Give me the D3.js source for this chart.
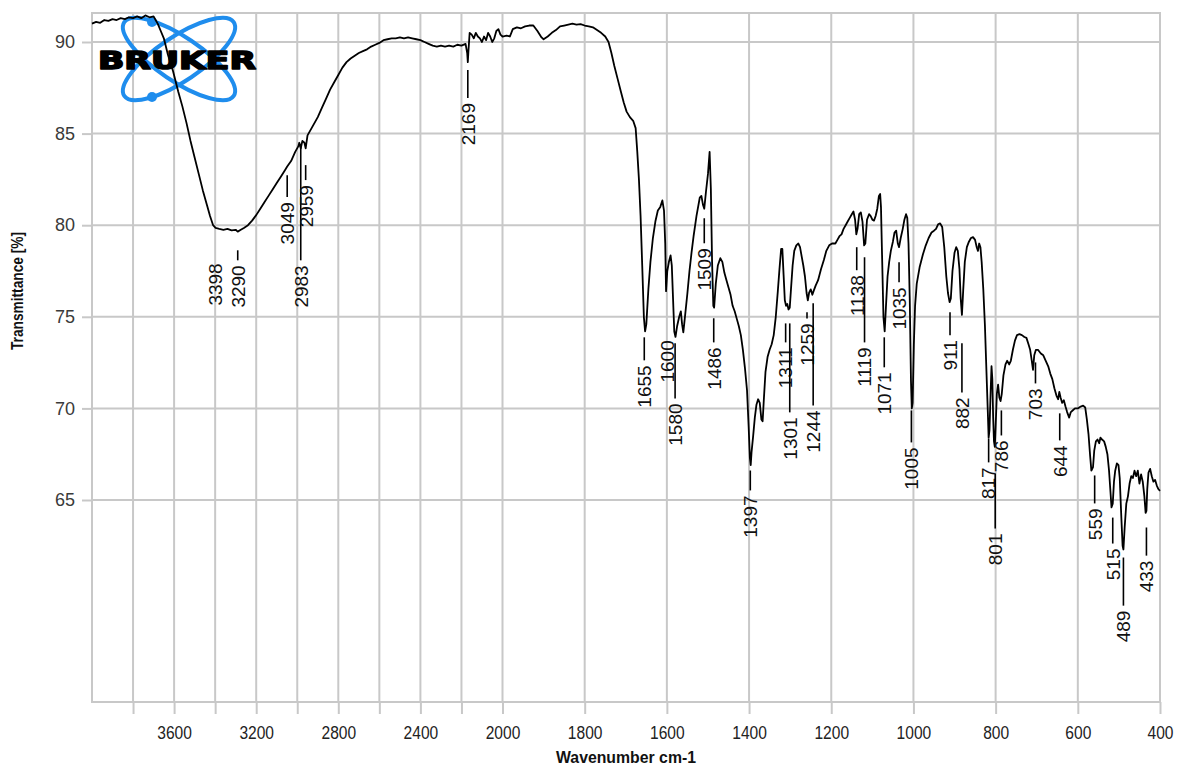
<!DOCTYPE html>
<html><head><meta charset="utf-8">
<script src="https://cdn.jsdelivr.net/npm/d3@7"></script>
<style>
html,body{margin:0;padding:0;background:#fff;}
svg{display:block;}
</style></head>
<body>
<svg id="chart" width="1178" height="767"></svg>
<script>
// ---- data ----
const wavenumbers = [4000,3980,3960,3940,3920,3900,3880,3860,3840,3820,3800,3780,3760,3740,3720,3700,3690,3680,3665,3650,3630,3605,3580,3560,3540,3520,3500,3480,3460,3440,3425,3410,3398,3380,3360,3340,3320,3300,3290,3275,3260,3240,3220,3200,3180,3160,3140,3120,3100,3080,3060,3049,3030,3010,2995,2990,2983,2975,2965,2959,2950,2930,2900,2880,2860,2840,2820,2800,2780,2760,2740,2720,2700,2680,2660,2640,2620,2600,2580,2560,2540,2520,2500,2480,2460,2440,2420,2400,2380,2360,2340,2320,2300,2280,2260,2240,2220,2200,2180,2172,2169,2166,2160,2150,2140,2130,2120,2110,2100,2090,2080,2070,2060,2050,2040,2030,2020,2010,2000,1990,1982,1975,1965,1955,1945,1935,1925,1915,1905,1900,1890,1880,1870,1860,1850,1840,1830,1820,1810,1800,1790,1780,1770,1760,1750,1742,1735,1728,1720,1712,1705,1698,1690,1682,1676,1672,1668,1664,1660,1656,1653,1650,1645,1640,1634,1628,1622,1616,1611,1607,1604,1602,1599,1595,1591,1588,1585,1582,1579,1575,1570,1566,1563,1560,1556,1550,1545,1540,1535,1528,1520,1516,1512,1509,1505,1500,1496,1493,1490,1487,1485,1481,1476,1470,1465,1460,1455,1450,1445,1440,1435,1430,1425,1420,1415,1410,1405,1401,1398,1396,1394,1390,1386,1382,1378,1374,1370,1367,1364,1360,1355,1350,1345,1340,1335,1330,1326,1322,1319,1316,1313,1310,1307,1304,1301,1298,1294,1290,1285,1280,1276,1272,1268,1264,1260,1257,1254,1250,1246,1243,1238,1232,1225,1218,1212,1205,1198,1190,1185,1180,1175,1170,1165,1160,1155,1150,1146,1142,1139,1136,1132,1128,1124,1120,1117,1113,1108,1104,1100,1096,1092,1088,1084,1081,1079,1076,1073,1070,1067,1063,1059,1055,1050,1046,1042,1038,1035,1031,1026,1022,1018,1015,1012,1009,1006,1004,1002,999,996,992,985,977,970,963,956,950,945,940,935,930,925,920,916,912,909,905,900,896,892,888,885,882,879,875,870,865,860,855,850,846,843,840,837,834,830,826,822,819,817,815,812,810,808,806,804,802,800,797,794,791,788,785,781,776,772,767,763,758,753,748,742,736,730,725,720,716,712,709,706,702,697,690,684,678,672,667,662,657,652,648,645,642,638,634,630,626,621,617,612,607,600,593,587,582,578,574,570,567,563,560,556,552,548,545,541,536,532,528,524,521,518,515,512,509,505,501,498,494,491,489,486,482,478,474,470,466,462,458,454,450,446,442,438,435,433,431,428,424,420,416,412,408,404,400];
const transmittance = [91.0,91.1,91.05,91.2,91.15,91.25,91.2,91.3,91.25,91.35,91.3,91.4,91.3,91.45,91.35,91.4,91.2,91.0,90.6,90.2,89.3,88.4,87.3,86.5,85.6,84.6,83.7,82.8,81.9,81.1,80.5,80.0,79.85,79.8,79.75,79.8,79.72,79.75,79.65,79.75,79.85,80.0,80.25,80.55,80.9,81.25,81.6,81.95,82.3,82.65,83.0,83.2,83.5,84.0,84.3,84.5,84.2,84.6,84.5,84.2,84.9,85.3,85.9,86.4,86.9,87.4,87.8,88.2,88.6,88.9,89.1,89.25,89.4,89.5,89.6,89.75,89.85,89.95,90.1,90.15,90.2,90.2,90.25,90.2,90.25,90.2,90.15,90.1,90.0,89.9,89.8,89.75,89.8,89.75,89.8,89.75,89.85,89.8,89.9,89.4,88.9,89.5,90.5,90.4,90.2,90.5,90.3,90.2,90.0,90.3,90.1,90.5,90.3,90.0,90.2,90.6,90.7,90.4,90.3,90.35,90.3,90.7,90.8,90.75,90.85,90.9,90.9,90.6,90.25,90.15,90.3,90.5,90.65,90.85,90.9,90.95,91.0,90.95,90.98,90.9,90.85,90.8,90.65,90.5,90.3,90.0,89.4,88.7,88.0,87.3,86.7,86.2,85.9,85.7,85.3,84.0,82.5,80.5,77.8,75.0,74.2,74.6,76.5,78.0,79.3,80.2,80.8,81.0,81.35,80.8,79.0,76.4,77.5,78.0,78.35,77.8,76.0,74.2,73.9,74.5,75.0,75.3,74.6,74.15,75.0,76.3,77.5,78.5,79.4,80.5,81.5,81.6,81.1,80.9,81.8,82.8,84.0,82.0,78.0,75.6,75.5,76.8,77.8,78.2,78.0,77.4,77.0,76.6,76.2,75.6,75.3,74.9,74.5,74.0,73.2,72.2,71.0,69.0,67.3,66.9,67.6,68.5,69.5,70.2,70.5,70.3,69.4,69.3,70.5,72.0,72.8,73.2,73.5,74.0,75.0,76.4,77.6,78.7,78.7,77.3,75.9,75.6,75.7,75.4,75.5,76.5,77.8,78.6,78.9,79.0,78.8,78.3,77.8,77.2,76.3,75.9,76.3,76.5,76.2,76.4,76.7,77.0,77.6,78.1,78.6,78.9,79.0,79.0,79.2,79.4,79.5,79.8,80.0,80.2,80.4,80.6,80.75,80.3,79.5,79.8,80.6,80.7,80.2,78.9,79.0,80.3,80.6,80.5,80.3,80.25,80.5,80.9,81.6,81.7,81.0,78.0,75.0,74.2,75.5,77.2,78.0,78.6,79.1,79.6,79.7,79.0,78.8,79.3,79.8,80.3,80.6,80.4,79.0,76.0,71.5,70.0,70.3,73.5,75.6,76.8,77.7,78.4,78.9,79.3,79.6,79.7,79.8,80.05,80.1,79.9,78.8,77.2,76.3,75.8,76.0,77.5,78.5,78.8,78.6,77.6,76.0,75.1,76.4,78.0,78.8,79.1,79.3,79.35,79.2,78.8,78.6,79.0,78.8,78.0,76.5,74.5,71.8,69.8,68.4,68.8,71.0,72.3,71.6,69.5,68.2,67.9,69.0,70.8,71.3,70.6,70.4,70.8,71.8,72.4,72.6,72.4,72.6,73.2,73.7,74.0,74.05,74.0,73.9,73.85,73.5,73.2,72.6,72.1,72.9,73.2,73.2,73.0,72.9,72.6,72.3,71.9,71.6,71.1,70.7,70.5,70.9,70.6,70.3,70.45,70.1,69.8,69.5,69.8,69.9,70.0,70.0,70.1,70.15,70.05,69.4,68.6,67.4,66.6,66.8,67.7,68.2,68.3,68.1,68.4,68.3,68.2,67.9,67.5,66.6,65.6,64.6,64.8,66.0,66.6,67.0,66.9,66.2,64.0,62.5,62.3,63.5,64.8,65.2,65.9,66.3,66.2,66.6,66.3,66.6,65.9,66.4,66.0,65.2,64.3,64.4,65.6,66.5,66.7,66.3,66.0,66.1,65.8,65.6,65.5];

// peak labels: wavenumber, transmittance where the marker line starts (null = none), transmittance where text starts
const peakLabels = ["3398","3290","3049","2983","2959","2169","1655","1600","1580","1509","1486","1397","1311","1301","1259","1244","1138","1119","1071","1035","1005","911","882","817","801","786","703","644","559","515","489","433"];
const peakLineTop = [null,78.63,82.73,84.37,83.28,88.47,73.88,null,73.55,80.38,74.92,66.61,74.64,74.64,75.25,75.74,78.8,78.25,73.88,77.98,69.89,75.25,73.55,68.36,66.45,69.89,72.51,69.73,66.34,64.04,61.86,63.5];
const peakTextTop = [77.92,77.81,81.26,77.81,82.19,86.67,72.35,73.72,70.27,78.74,73.33,65.25,73.33,69.51,74.64,69.89,77.27,73.33,71.97,76.61,67.87,73.72,70.6,66.78,63.17,68.25,71.09,67.98,64.54,62.35,58.96,61.69];

const xTickValues = [3800,3600,3400,3200,3000,2800,2600,2400,2200,2000,1800,1600,1400,1200,1000,800,600,400];
const xTickLabels = [3600,3200,2800,2400,2000,1800,1600,1400,1200,1000,800,600,400];
const yTickValues = [65,70,75,80,85,90];

// ---- drawing ----
const svg = d3.select("#chart");
const L = 92, R = 1160, T = 13, B = 702;
const x = d3.scaleLinear().domain([4000, 2000, 400]).range([L, 502.5, R]);
const y = d3.scaleLinear().domain([90, 65]).range([42, 500]);
const gridColor = "#c8c8c8";
const sans = "'Liberation Sans', Arial, sans-serif";

// grid
svg.append("g").selectAll("line").data(xTickValues).join("line")
  .attr("x1", d => x(d)).attr("x2", d => x(d)).attr("y1", T).attr("y2", B)
  .attr("stroke", gridColor).attr("stroke-width", 2);
svg.append("g").selectAll("line").data(yTickValues).join("line")
  .attr("x1", L).attr("x2", R).attr("y1", d => y(d)).attr("y2", d => y(d))
  .attr("stroke", gridColor).attr("stroke-width", 2);
svg.append("rect").attr("x", L).attr("y", T).attr("width", R - L).attr("height", B - T)
  .attr("fill", "none").attr("stroke", gridColor).attr("stroke-width", 2);

// y axis
const yAxis = svg.append("g").attr("transform", `translate(${L},0)`)
  .call(d3.axisLeft(y).tickValues(yTickValues).tickSize(10).tickPadding(7).tickFormat(d3.format("d")));
yAxis.select(".domain").remove();
yAxis.selectAll(".tick line").attr("stroke", gridColor).attr("stroke-width", 2);
yAxis.selectAll(".tick text").attr("fill", "#3a3a3a").style("font-family", sans).style("font-size", "18px");

// x axis
const xAxis = svg.append("g").attr("transform", `translate(0,${B})`)
  .call(d3.axisBottom(x).tickValues(xTickValues).tickSize(12).tickPadding(12)
    .tickFormat(d => xTickLabels.includes(d) ? String(d) : ""));
xAxis.select(".domain").remove();
xAxis.selectAll(".tick line").attr("stroke", gridColor).attr("stroke-width", 2);
xAxis.selectAll(".tick text").attr("fill", "#222").style("font-family", sans).style("font-size", "19px")
  .attr("transform", "scale(0.82,1)");

// axis titles
svg.append("text").attr("x", (L + R) / 2).attr("y", 763).attr("text-anchor", "middle")
  .attr("textLength", 140).attr("lengthAdjust", "spacingAndGlyphs")
  .style("font-family", sans).style("font-size", "17px").style("font-weight", "bold").attr("fill", "#111").text("Wavenumber cm-1");
svg.append("text").attr("transform", "translate(23,291) rotate(-90)").attr("text-anchor", "middle")
  .attr("textLength", 118).attr("lengthAdjust", "spacingAndGlyphs")
  .style("font-family", sans).style("font-size", "16px").style("font-weight", "bold").attr("fill", "#111").text("Transmittance [%]");

// logo
const logo = svg.append("g");
const blue = "#1f8ded";
[34, -34].forEach(a => {
  logo.append("ellipse").attr("cx", 0).attr("cy", 0).attr("rx", 66).attr("ry", 22)
    .attr("transform", `translate(179,59) rotate(${a})`)
    .attr("fill", "none").attr("stroke", blue).attr("stroke-width", 4);
});
logo.append("circle").attr("cx", 152).attr("cy", 22).attr("r", 5).attr("fill", blue);
logo.append("circle").attr("cx", 152).attr("cy", 97).attr("r", 5).attr("fill", blue);
logo.append("text").attr("x", 98).attr("y", 69).attr("textLength", 158).attr("lengthAdjust", "spacingAndGlyphs")
  .style("font-family", "'DejaVu Sans', sans-serif").style("font-weight", "bold").style("font-size", "24px")
  .attr("fill", "#000").attr("stroke", "#000").attr("stroke-width", 1.6).attr("stroke-linejoin", "round").text("BRUKER");

// spectrum
const pts = wavenumbers.map((w, i) => [w, transmittance[i]]);
svg.append("path").datum(pts)
  .attr("d", d3.line().x(d => x(d[0])).y(d => y(d[1])))
  .attr("fill", "none").attr("stroke", "#000").attr("stroke-width", 1.8).attr("stroke-linejoin", "round");

// peak labels
const pg = svg.append("g");
peakLabels.forEach((lab, i) => {
  const px = x(+lab);
  const tt = y(peakTextTop[i]);
  if (peakLineTop[i] !== null) {
    pg.append("line").attr("x1", px).attr("x2", px).attr("y1", y(peakLineTop[i])).attr("y2", tt - 5)
      .attr("stroke", "#000").attr("stroke-width", 1.6);
  }
  pg.append("text").attr("transform", `translate(${px},${tt}) rotate(-90)`)
    .attr("text-anchor", "end").attr("dy", "0.36em")
    .style("font-family", sans).style("font-size", "19px")
    .attr("fill", "#111").text(lab);
});
</script>
</body></html>
